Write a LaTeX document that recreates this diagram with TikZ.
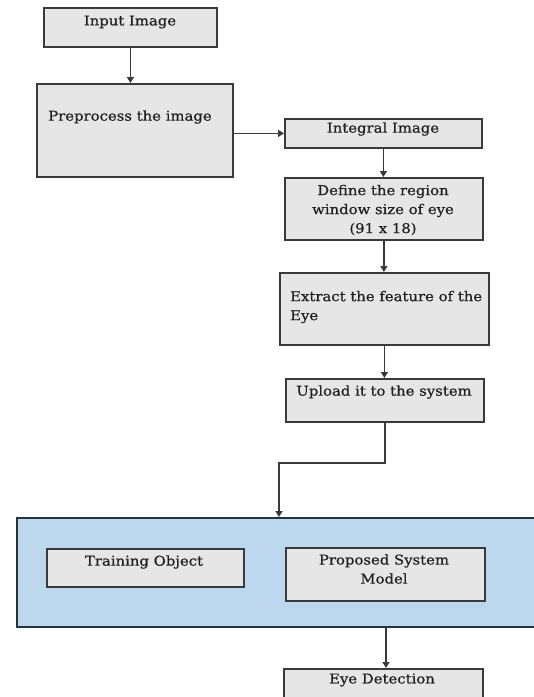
\documentclass[tikz,border=0pt]{standalone}
\usepackage{fontspec}
\setmainfont{DejaVu Serif}[FakeStretch=1.1,FakeBold=0.6]
\usetikzlibrary{arrows.meta}
\definecolor{boxfill}{HTML}{E6E6E6}
\definecolor{boxline}{HTML}{3A3A3A}
\definecolor{bluefill}{HTML}{BDD7EE}
\definecolor{blueline}{HTML}{26323E}
\definecolor{txtc}{HTML}{202020}
\tikzset{
  box/.style={draw=boxline, fill=boxfill, line width=1.8pt, anchor=north west, inner sep=0pt},
  panel/.style={draw=blueline, fill=bluefill, line width=1.8pt, anchor=north west, inner sep=0pt},
  txt/.style={text=txtc, font=\fontsize{13.5}{19}\selectfont, inner sep=0pt},
  arr/.style={draw=boxline, line width=1.5pt, -{Triangle[length=6pt,width=7pt]}}
}
\begin{document}
\begin{tikzpicture}[x=1pt,y=-1pt]
\useasboundingbox (0,0) rectangle (534,697);
\clip (0,0) rectangle (534,697);
\fill[white] (0,0) rectangle (534,697);
% boxes
\node[box, minimum width=173, minimum height=39] (input) at (43,7) {};
\node[box, minimum width=196, minimum height=93] (pre) at (36,83) {};
\node[box, minimum width=197, minimum height=29] (integral) at (284,118) {};
\node[box, minimum width=198, minimum height=62] (define) at (284,177) {};
\node[box, minimum width=209, minimum height=72] (extract) at (279,272) {};
\node[box, minimum width=198, minimum height=43] (upload) at (285,378) {};
\node[panel, minimum width=530, minimum height=109] (blue) at (16,517) {};
\node[box, minimum width=197, minimum height=38] (training) at (46,548) {};
\node[box, minimum width=199, minimum height=53] (proposed) at (285,547) {};
\node[box, minimum width=199, minimum height=45] (eye) at (283,668) {};
% texts
\node[txt] (tinput) at (130,22) {Input Image};
\node[txt, anchor=west] (tpre) at (48,117) {Preprocess the image};
\node[txt] (tintegral) at (383,129) {Integral Image};
\node[txt, align=center] (tdefine) at (383,210) {Define the region\\window size of eye\\(91 x 18)};
\node[txt, align=left, anchor=west] (textract) at (290,307) {Extract the feature of the\\Eye};
\node[txt] (tupload) at (384,392) {Upload it to the system};
\node[txt] (ttraining) at (144,562) {Training Object};
\node[txt, align=center] (tproposed) at (384,569) {Proposed System\\Model};
\node[txt] (teye) at (382,680) {Eye Detection};
% connectors
\draw[arr] (input.south) -- (input.south |- pre.north);
\draw[arr] (pre.east |- integral.west) -- (integral.west);
\draw[arr] (integral.south) -- (integral.south |- define.north);
\draw[arr] (define.south) -- (define.south |- extract.north);
\draw[arr] (extract.south) -- (extract.south |- upload.north);
\coordinate (jog) at (279,463);
\draw[arr] (upload.south) |- (jog) -- (jog |- blue.north);
\draw[arr] (blue.south -| 386,0) -- (386,0 |- eye.north);
\end{tikzpicture}
\end{document}
